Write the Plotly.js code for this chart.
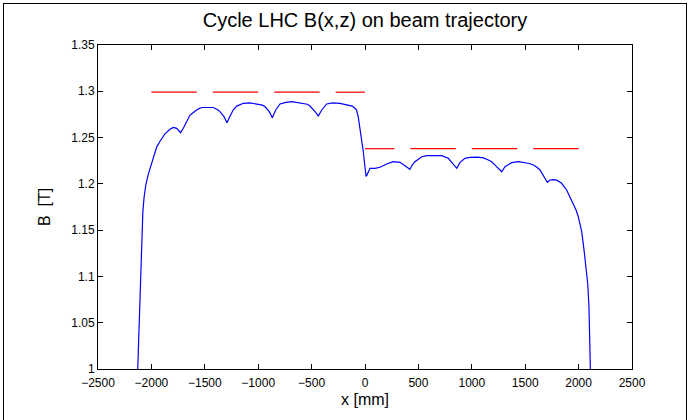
<!DOCTYPE html>
<html>
<head>
<meta charset="utf-8">
<script src="https://cdn.plot.ly/plotly-3.0.1.min.js"></script>
<style>
  html, body { margin: 0; padding: 0; background: #fff; overflow: hidden; }
  #wrap { position: relative; width: 690px; height: 420px; }
  #chart { width: 690px; height: 420px; }
  #frame { position: absolute; left: 3px; top: 3px; width: 682px; height: 440px;
           border: 1px solid #000; pointer-events: none; }
</style>
</head>
<body>
<div id="wrap">
  <div id="chart"></div>
  <div id="frame"></div>
</div>
<script>
// Field profile along beam trajectory
const xPos = [
  -2128, -2116, -2107, -2100, -2091, -2080, -2068, -2052, -2030, -2005,
  -1976, -1950, -1919, -1873, -1826, -1795, -1763, -1740, -1726, -1701,
  -1670, -1640, -1607, -1560, -1529, -1482, -1420, -1380, -1358, -1320,
  -1300, -1292, -1264, -1233, -1200, -1139, -1080, -1014, -960, -936,
  -910, -896, -868, -850, -836, -796, -740, -686, -640, -593,
  -540, -515, -480, -468, -437, -420, -405, -359, -300, -234,
  -190, -156, -120, -94, -80, -63, -47, -31, -16, 0,
  10, 20, 31, 47, 94, 140, 203, 265, 328, 375,
  400, 421, 440, 468, 531, 578, 650, 718, 780, 810,
  827, 859, 875, 890, 936, 983, 1050, 1108, 1150, 1186,
  1220, 1248, 1280, 1311, 1340, 1373, 1436, 1498, 1540, 1576,
  1610, 1639, 1665, 1685, 1707, 1732, 1760, 1795, 1841, 1888,
  1935, 1976, 1997, 2029, 2051, 2069, 2085, 2097, 2104, 2110
];
const bField = [
  1.000, 1.042, 1.078, 1.114, 1.148, 1.170, 1.186, 1.199, 1.210, 1.219,
  1.232, 1.240, 1.246, 1.254, 1.259, 1.261, 1.260, 1.257, 1.2553, 1.260,
  1.268, 1.274, 1.277, 1.281, 1.2825, 1.2827, 1.2825, 1.280, 1.278, 1.2726,
  1.267, 1.266, 1.273, 1.280, 1.284, 1.287, 1.2875, 1.2863, 1.285, 1.2833,
  1.280, 1.278, 1.2715, 1.276, 1.2798, 1.2863, 1.288, 1.2888, 1.288, 1.2877,
  1.286, 1.2841, 1.280, 1.278, 1.2735, 1.277, 1.2798, 1.2863, 1.2875, 1.287,
  1.286, 1.2852, 1.284, 1.2816, 1.280, 1.272, 1.260, 1.248, 1.235, 1.218,
  1.208, 1.210, 1.2131, 1.2168, 1.2168, 1.2179, 1.2214, 1.2239, 1.2233, 1.2193,
  1.217, 1.2157, 1.220, 1.2239, 1.2293, 1.2304, 1.2305, 1.2304, 1.2276, 1.223,
  1.2204, 1.2168, 1.220, 1.2233, 1.2276, 1.2287, 1.2288, 1.2280, 1.226, 1.2239,
  1.220, 1.2168, 1.2131, 1.2185, 1.221, 1.2229, 1.2239, 1.2229, 1.222, 1.2204,
  1.218, 1.215, 1.210, 1.206, 1.2017, 1.2042, 1.2045, 1.2040, 1.2006, 1.1934,
  1.1826, 1.1718, 1.1645, 1.1483, 1.1285, 1.110, 1.0926, 1.0673, 1.0385, 1.000
];

// Red reference segments
const upperStarts = [-2000, -1425, -850, -275];
const upperEnds   = [-1575, -1000, -425, 0];
const upperLevel  = 1.299;
const lowerStarts = [0, 425, 1000, 1575];
const lowerEnds   = [275, 850, 1425, 2000];
const lowerLevel  = 1.238;

const xTicks = [-2500, -2000, -1500, -1000, -500, 0, 500, 1000, 1500, 2000, 2500];
const yTicks = [1, 1.05, 1.1, 1.15, 1.2, 1.25, 1.3, 1.35];
const yTickText = ['1', '1.05', '1.1', '1.15', '1.2', '1.25', '1.3', '1.35'];

function segs(starts, ends, level) {
  const x = [], y = [];
  starts.forEach((s, i) => {
    x.push(s, ends[i], null);
    y.push(level, level, null);
  });
  return {x, y};
}
const up = segs(upperStarts, upperEnds, upperLevel);
const lo = segs(lowerStarts, lowerEnds, lowerLevel);

const FONT = 'Liberation Sans, Arial, sans-serif';

const traces = [
  {x: up.x, y: up.y, mode: 'lines', line: {color: '#ff0000', width: 1.2}, connectgaps: false, hoverinfo: 'skip'},
  {x: lo.x, y: lo.y, mode: 'lines', line: {color: '#ff0000', width: 1.2}, connectgaps: false, hoverinfo: 'skip'},
  {x: xPos, y: bField, mode: 'lines', line: {color: '#0000ff', width: 1.2}}
];

const axisCommon = {
  showgrid: false, zeroline: false,
  showline: true, linecolor: '#000', linewidth: 1, mirror: 'ticks',
  ticks: 'inside', ticklen: 5, tickcolor: '#000', tickwidth: 1,
  tickfont: {family: FONT, size: 12, color: '#000'}
};

const layout = {
  width: 690, height: 420,
  margin: {l: 98, r: 58, t: 45, b: 51},
  paper_bgcolor: '#fff', plot_bgcolor: '#fff',
  showlegend: false,
  title: {text: 'Cycle LHC B(x,z) on beam trajectory', font: {family: FONT, size: 20, color: '#000'},
          x: 0.529, xanchor: 'center', y: 0.952, yanchor: 'middle'},
  xaxis: Object.assign({}, axisCommon, {
    range: [-2500, 2500], tickvals: xTicks, ticklabelstandoff: 3,
    title: {text: 'x [mm]', font: {family: FONT, size: 16, color: '#000'}, standoff: 4}
  }),
  yaxis: Object.assign({}, axisCommon, {
    range: [1, 1.35], tickvals: yTicks, ticktext: yTickText,
    title: {text: 'B  [T]', font: {family: FONT, size: 16, color: '#000'}, standoff: 16}
  })
};

Plotly.newPlot('chart', traces, layout, {displayModeBar: false, staticPlot: true});
</script>
</body>
</html>
